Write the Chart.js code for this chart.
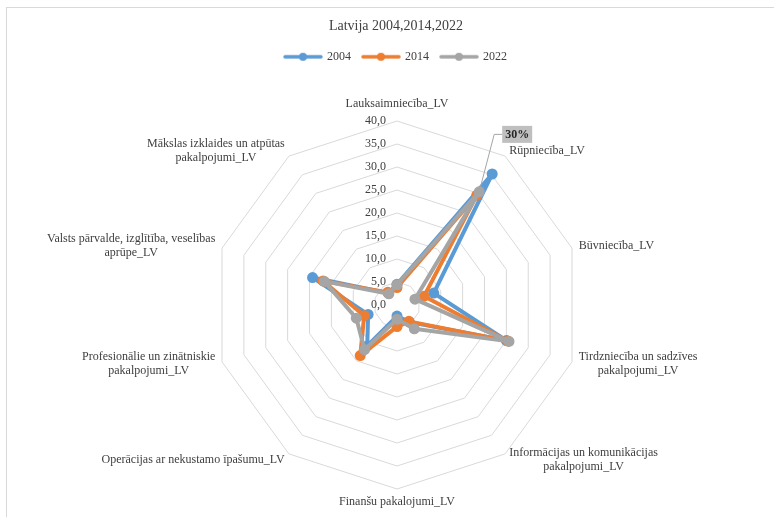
<!DOCTYPE html>
<html>
<head>
<meta charset="utf-8">
<title>Latvija 2004,2014,2022</title>
<script src="https://cdn.jsdelivr.net/npm/chart.js@4.4.1/dist/chart.umd.min.js"></script>
<style>
  html, body { margin: 0; padding: 0; background: #fff; overflow: hidden; }
  #frame { position: absolute; left: 6px; top: 7px; width: 800px; height: 540px; border: 1px solid #d9d9d9; }
  #chart { display: block; }
</style>
</head>
<body>
<div id="frame"><canvas id="chart" width="778" height="520"></canvas></div>
<script>
// Category labels (already split into lines like the Excel original)
const categories = [
  ['Lauksaimniecība_LV'],
  ['Rūpniecība_LV'],
  ['Būvniecība_LV'],
  ['Tirdzniecība un sadzīves', 'pakalpojumi_LV'],
  ['Informācijas un komunikācijas', 'pakalpojumi_LV'],
  ['Finanšu pakalojumi_LV'],
  ['Operācijas ar nekustamo īpašumu_LV'],
  ['Profesionālie un zinātniskie', 'pakalpojumi_LV'],
  ['Valsts pārvalde, izglītība, veselības', 'aprūpe_LV'],
  ['Mākslas izklaides un atpūtas', 'pakalpojumi_LV']
];

const years = ['2004', '2014', '2022'];
const values2004 = [4.5, 35.2, 8.4, 25.0, 4.6, 2.4, 11.0, 6.6, 19.3, 3.2];
const values2014 = [3.8, 29.5, 6.2, 25.3, 4.4, 4.7, 13.6, 7.5, 16.9, 3.4];
const values2022 = [4.4, 30.4, 4.1, 25.6, 6.4, 3.1, 12.0, 9.3, 16.6, 3.0];

const tickMin = 0;
const tickMax = 40;
const tickStep = 5;

const seriesColors = ['#5B9BD5', '#ED7D31', '#A5A5A5'];
const FONT = "'Liberation Serif', 'Times New Roman', serif";
const TEXT = '#404040';

// legend swatch: short line with a marker in the middle
function legendSwatch(color) {
  const c = document.createElement('canvas');
  c.width = 40; c.height = 10;
  const g = c.getContext('2d');
  g.strokeStyle = color;
  g.lineWidth = 3.5;
  g.lineCap = 'round';
  g.beginPath(); g.moveTo(2, 5); g.lineTo(38, 5); g.stroke();
  g.fillStyle = color;
  g.beginPath(); g.arc(20, 5, 4, 0, Math.PI * 2); g.fill();
  return c;
}
const swatches = seriesColors.map(legendSwatch);

const fmtTick = v => v.toFixed(1).replace('.', ',');

// tick labels left of the vertical axis, like Excel
const tickLabelPlugin = {
  id: 'tickLabels',
  beforeDatasetsDraw(chart) {
    const scale = chart.scales.r;
    const ctx = chart.ctx;
    ctx.save();
    ctx.font = `12px ${FONT}`;
    ctx.fillStyle = TEXT;
    ctx.textAlign = 'right';
    ctx.textBaseline = 'middle';
    scale.ticks.forEach(t => {
      const d = scale.getDistanceFromCenterForValue(t.value);
      ctx.fillText(fmtTick(t.value), scale.xCenter - 11, scale.yCenter - d);
    });
    ctx.restore();
  }
};

// category labels around the polygon
const pointLabelPlugin = {
  id: 'catLabels',
  afterDraw(chart) {
    const scale = chart.scales.r;
    const ctx = chart.ctx;
    const lineH = 14;
    ctx.save();
    ctx.font = `12px ${FONT}`;
    ctx.fillStyle = TEXT;
    ctx.textBaseline = 'middle';
    categories.forEach((lines, i) => {
      const a = scale.getIndexAngle(i);
      const sx = Math.sin(a), cy = Math.cos(a);
      const blockH = lines.length * lineH;
      let p;
      if (Math.abs(sx) < 0.01) {
        p = scale.getPointPosition(i, scale.drawingArea + (cy > 0 ? 17 : 13));
      } else {
        p = scale.getPointPosition(i, scale.drawingArea + 7);
      }
      // widest line decides where centred lines sit
      const maxW = Math.max(...lines.map(l => ctx.measureText(l).width));
      let cx;
      if (Math.abs(sx) < 0.01) cx = p.x;
      else if (sx > 0) cx = p.x + maxW / 2;
      else cx = p.x - maxW / 2;
      ctx.textAlign = 'center';
      lines.forEach((l, k) => {
        ctx.fillText(l, cx, p.y - blockH / 2 + lineH * (k + 0.5));
      });
    });
    ctx.restore();
  }
};

// the single "30%" callout on 2022 Rūpniecība
const calloutPlugin = {
  id: 'callout',
  afterDatasetsDraw(chart) {
    const pt = chart.getDatasetMeta(2).data[1];
    if (!pt) return;
    const ctx = chart.ctx;
    const bx = pt.x + 23, by = pt.y - 66, bw = 30, bh = 17;
    ctx.save();
    ctx.strokeStyle = '#A5A5A5';
    ctx.lineWidth = 1;
    ctx.beginPath();
    ctx.moveTo(pt.x, pt.y);
    ctx.lineTo(pt.x + 15, by + bh / 2);
    ctx.lineTo(bx, by + bh / 2);
    ctx.stroke();
    ctx.fillStyle = '#BFBFBF';
    ctx.fillRect(bx, by, bw, bh);
    ctx.fillStyle = '#262626';
    ctx.font = `bold 12px ${FONT}`;
    ctx.textAlign = 'center';
    ctx.textBaseline = 'middle';
    ctx.fillText(Math.round(values2022[1]) + '%', bx + bw / 2, by + bh / 2 + 1);
    ctx.restore();
  }
};

const seriesValues = [values2004, values2014, values2022];

const chart = new Chart(document.getElementById('chart'), {
  type: 'radar',
  data: {
    labels: categories.map(c => c.join(' ')),
    datasets: years.map((y, i) => ({
      label: y,
      data: seriesValues[i],
      borderColor: seriesColors[i],
      backgroundColor: seriesColors[i],
      pointBackgroundColor: seriesColors[i],
      pointBorderColor: seriesColors[i],
      pointBorderWidth: 0,
      pointRadius: 5.5,
      borderWidth: 4,
      borderJoinStyle: 'round',
      borderCapStyle: 'round',
      fill: false,
      tension: 0,
      clip: false,
      order: 2 - i
    }))
  },
  options: {
    responsive: false,
    animation: false,
    events: [],
    layout: { padding: 0 },
    plugins: {
      title: {
        display: true,
        text: 'Latvija 2004,2014,2022',
        color: TEXT,
        font: { family: FONT, size: 14, weight: 'normal' },
        padding: { top: 10, bottom: 4 }
      },
      legend: {
        position: 'top',
        labels: {
          color: TEXT,
          font: { family: FONT, size: 12 },
          usePointStyle: true,
          pointStyleWidth: 36,
          padding: 12,
          sort: (a, b) => a.datasetIndex - b.datasetIndex,
          generateLabels: (ch) => Chart.defaults.plugins.legend.labels.generateLabels(ch)
            .map(item => Object.assign(item, { pointStyle: swatches[item.datasetIndex] }))
        }
      },
      tooltip: { enabled: false }
    },
    scales: {
      r: {
        min: tickMin,
        max: tickMax,
        ticks: { stepSize: tickStep, display: false },
        grid: { color: '#D9D9D9', lineWidth: 1, circular: false },
        angleLines: { display: false },
        pointLabels: { display: false },
        afterFit(scale) {
          scale.xCenter = 390;
          scale.yCenter = 297;
          scale.drawingArea = 184;
        }
      }
    }
  },
  plugins: [tickLabelPlugin, calloutPlugin, pointLabelPlugin]
});
</script>
</body>
</html>
